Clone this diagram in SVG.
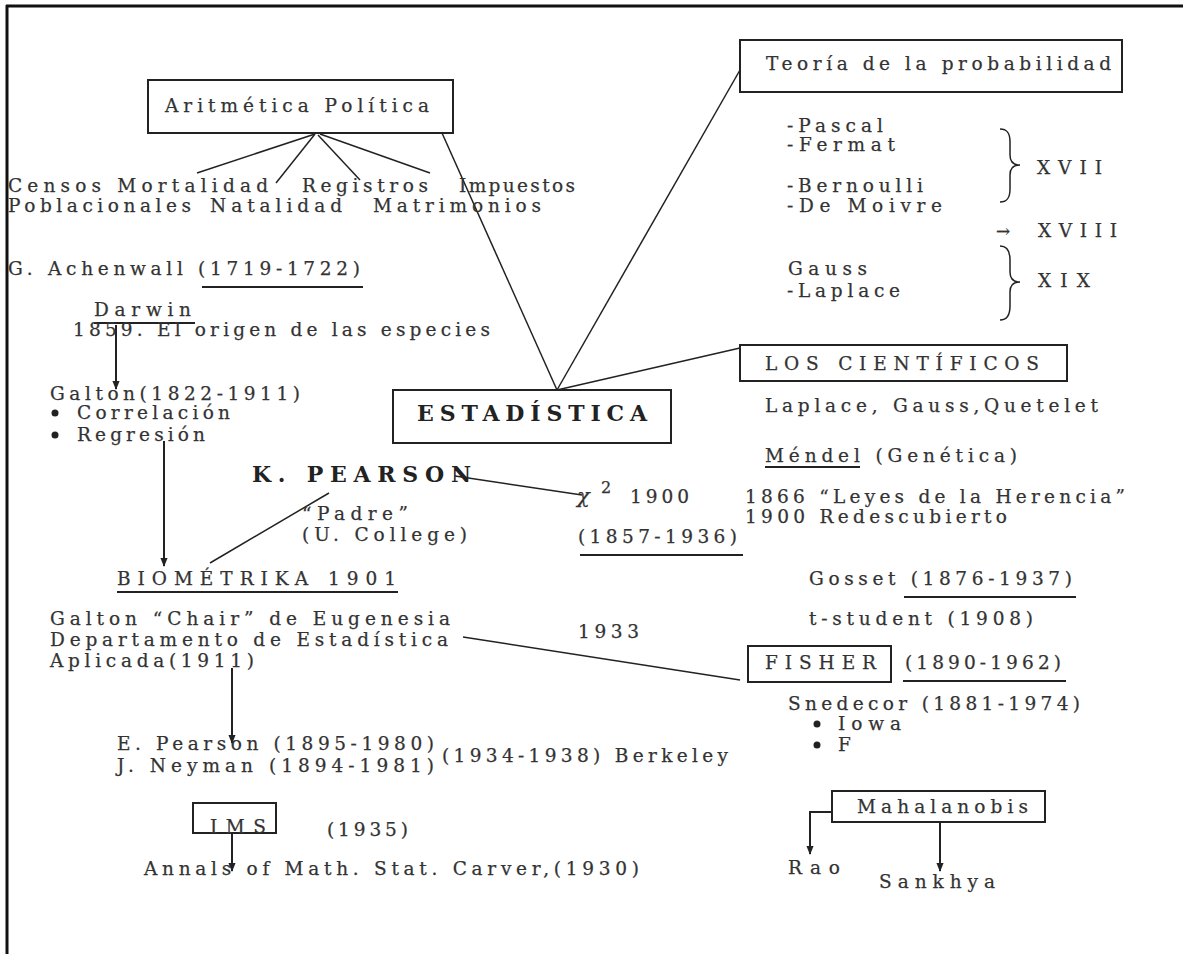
<svg xmlns="http://www.w3.org/2000/svg" width="1183" height="954" viewBox="0 0 1183 954">
<style>
.t{font-family:"DejaVu Serif","Liberation Serif",serif;font-size:18.5px;fill:#333;stroke:#333;stroke-width:0.25}
.b{font-family:"DejaVu Serif","Liberation Serif",serif;font-size:22px;font-weight:bold;fill:#222}
.box{fill:none;stroke:#222;stroke-width:2}
.ln{fill:none;stroke:#222;stroke-width:1.5}
.ul{fill:none;stroke:#222;stroke-width:2}
.ar{fill:none;stroke:#222;stroke-width:2}
</style>
<defs>
<marker id="ah" viewBox="0 0 10 10" refX="9" refY="5" markerWidth="9" markerHeight="11" markerUnits="userSpaceOnUse" orient="auto">
<path d="M0,1 L10,5 L0,9 Z" fill="#222"/>
</marker>
</defs>
<rect width="1183" height="954" fill="#fff"/>
<g id="frame">
<line x1="6" y1="6" x2="1183" y2="6" stroke="#111" stroke-width="3"/>
<line x1="7" y1="5" x2="7" y2="954" stroke="#111" stroke-width="3"/>
</g>

<g id="connectors">
<line class="ln" x1="315" y1="134" x2="197" y2="173"/>
<line class="ln" x1="315" y1="134" x2="276" y2="183"/>
<line class="ln" x1="318" y1="135" x2="360" y2="180"/>
<line class="ln" x1="320" y1="134" x2="430" y2="173"/>
<line class="ln" x1="442" y1="133" x2="557" y2="390"/>
<line class="ln" x1="557" y1="390" x2="740" y2="70"/>
<line class="ln" x1="557" y1="390" x2="740" y2="348"/>
<line class="ln" x1="455" y1="476" x2="582" y2="495"/>
<line class="ln" x1="329" y1="493" x2="210" y2="563"/>
<line class="ln" x1="463" y1="637" x2="740" y2="680"/>
<line class="ar" x1="116" y1="325" x2="116" y2="389" marker-end="url(#ah)"/>
<line class="ar" x1="164" y1="441" x2="164" y2="566" marker-end="url(#ah)"/>
<line class="ar" x1="232" y1="668" x2="232" y2="743" marker-end="url(#ah)"/>
<line class="ar" x1="232" y1="833" x2="232" y2="871" marker-end="url(#ah)"/>
<polyline class="ar" points="832,812 810,812 810,854" marker-end="url(#ah)"/>
<line class="ar" x1="940" y1="822" x2="940" y2="871" marker-end="url(#ah)"/>
</g>

<g id="aritmetica">
<rect class="box" x="148" y="80" width="305" height="53"/>
<text class="t" x="165" y="112" textLength="264" lengthAdjust="spacing">Aritmética Política</text>
</g>
<g id="categorias">
<text class="t" x="8" y="192" textLength="260" lengthAdjust="spacing">Censos Mortalidad</text>
<text class="t" x="302" y="192" textLength="126" lengthAdjust="spacing">Registros</text>
<text class="t" x="459" y="192" textLength="116" lengthAdjust="spacing">Impuestos</text>
<text class="t" x="8" y="212" textLength="183" lengthAdjust="spacing">Poblacionales</text>
<text class="t" x="210" y="212" textLength="132" lengthAdjust="spacing">Natalidad</text>
<text class="t" x="373" y="212" textLength="168" lengthAdjust="spacing">Matrimonios</text>
</g>
<g id="achenwall">
<text class="t" x="8" y="275" textLength="352" lengthAdjust="spacing">G. Achenwall (1719-1722)</text>
<line class="ul" x1="202" y1="287" x2="363" y2="287"/>
</g>
<g id="darwin">
<text class="t" x="94" y="316" textLength="97" lengthAdjust="spacing">Darwin</text>
<line class="ul" x1="94" y1="323" x2="195" y2="323"/>
<text class="t" x="73" y="336" textLength="417" lengthAdjust="spacing">1859. El origen de las especies</text>
</g>
<g id="galton">
<text class="t" x="50" y="400" textLength="250" lengthAdjust="spacing">Galton(1822-1911)</text>
<circle cx="55" cy="413" r="3.5" fill="#222"/>
<text class="t" x="77" y="419" textLength="153" lengthAdjust="spacing">Correlación</text>
<circle cx="55" cy="435" r="3.5" fill="#222"/>
<text class="t" x="77" y="441" textLength="128" lengthAdjust="spacing">Regresión</text>
</g>
<g id="estadistica">
<rect class="box" x="393" y="390" width="278" height="53"/>
<text class="b" x="417" y="421" textLength="230" lengthAdjust="spacing">ESTADÍSTICA</text>
</g>
<g id="teoria">
<rect class="box" x="740" y="40" width="382" height="52"/>
<text class="t" x="766" y="70" textLength="345" lengthAdjust="spacing">Teoría de la probabilidad</text>
</g>
<g id="probabilistas">
<text class="t" x="787" y="132" textLength="96" lengthAdjust="spacing">-Pascal</text>
<text class="t" x="787" y="151" textLength="108" lengthAdjust="spacing">-Fermat</text>
<text class="t" x="787" y="192" textLength="136" lengthAdjust="spacing">-Bernoulli</text>
<text class="t" x="787" y="212" textLength="155" lengthAdjust="spacing">-De Moivre</text>
<path class="ln" d="M1000,129 C1008,129 1010,134 1010,142 L1010,155 C1010,161 1013,165 1020,165 C1013,165 1010,169 1010,175 L1010,189 C1010,197 1008,202 1000,202"/>
<text class="t" x="1037" y="174" textLength="65" lengthAdjust="spacing">XVII</text>
<text class="t" x="996" y="237" style="font-size:17px">→</text>
<text class="t" x="1038" y="237" textLength="79" lengthAdjust="spacing">XVIII</text>
<text class="t" x="788" y="275" textLength="79" lengthAdjust="spacing">Gauss</text>
<text class="t" x="787" y="297" textLength="113" lengthAdjust="spacing">-Laplace</text>
<path class="ln" d="M1000,246 C1008,246 1010,252 1010,260 L1010,272 C1010,278 1013,282 1020,282 C1013,282 1010,286 1010,292 L1010,306 C1010,314 1008,320 1000,320"/>
<text class="t" x="1038" y="287" textLength="52" lengthAdjust="spacing">XIX</text>
</g>
<g id="cientificos">
<rect class="box" x="740" y="345" width="327" height="36"/>
<text class="t" x="765" y="370" textLength="274" lengthAdjust="spacing">LOS CIENTÍFICOS</text>
<text class="t" x="765" y="412" textLength="333" lengthAdjust="spacing">Laplace, Gauss,Quetelet</text>
</g>
<g id="mendel">
<text class="t" x="765" y="462" textLength="252" lengthAdjust="spacing">Méndel (Genética)</text>
<line class="ul" x1="765" y1="467" x2="860" y2="467"/>
<text class="t" x="745" y="503" textLength="380" lengthAdjust="spacing">1866 “Leyes de la Herencia”</text>
<text class="t" x="745" y="523" textLength="262" lengthAdjust="spacing">1900 Redescubierto</text>
</g>
<g id="pearson">
<text class="b" x="252" y="482" textLength="219" lengthAdjust="spacing">K. PEARSON</text>
<text class="t" x="302" y="520" textLength="106" lengthAdjust="spacing">“Padre”</text>
<text class="t" x="302" y="541" textLength="165" lengthAdjust="spacing">(U. College)</text>
<text class="t" x="577" y="503" style="font-style:italic;font-size:21px">χ</text>
<text class="t" x="601" y="493" style="font-size:16px">2</text>
<text class="t" x="630" y="503" textLength="59" lengthAdjust="spacing">1900</text>
<text class="t" x="578" y="543" textLength="159" lengthAdjust="spacing">(1857-1936)</text>
<line class="ul" x1="580" y1="555" x2="743" y2="555"/>
</g>
<g id="biometrika">
<text class="t" x="117" y="585" textLength="279" lengthAdjust="spacing">BIOMÉTRIKA 1901</text>
<line class="ul" x1="117" y1="592" x2="398" y2="592"/>
</g>
<g id="gosset">
<text class="t" x="809" y="585" textLength="263" lengthAdjust="spacing">Gosset (1876-1937)</text>
<line class="ul" x1="904" y1="597" x2="1076" y2="597"/>
<text class="t" x="809" y="625" textLength="224" lengthAdjust="spacing">t-student (1908)</text>
</g>
<g id="departamento">
<text class="t" x="50" y="625" textLength="400" lengthAdjust="spacing">Galton “Chair” de Eugenesia</text>
<text class="t" x="50" y="646" textLength="398" lengthAdjust="spacing">Departamento de Estadística</text>
<text class="t" x="50" y="667" textLength="204" lengthAdjust="spacing">Aplicada(1911)</text>
<text class="t" x="578" y="638" textLength="61" lengthAdjust="spacing">1933</text>
</g>
<g id="fisher">
<rect class="box" x="748" y="646" width="143" height="36"/>
<text class="t" x="765" y="669" textLength="111" lengthAdjust="spacing">FISHER</text>
<text class="t" x="905" y="669" textLength="156" lengthAdjust="spacing">(1890-1962)</text>
<line class="ul" x1="903" y1="681" x2="1066" y2="681"/>
<text class="t" x="788" y="710" textLength="292" lengthAdjust="spacing">Snedecor (1881-1974)</text>
<circle cx="817" cy="724" r="3.5" fill="#222"/>
<text class="t" x="838" y="730" textLength="63" lengthAdjust="spacing">Iowa</text>
<circle cx="817" cy="745" r="3.5" fill="#222"/>
<text class="t" x="838" y="751">F</text>
</g>
<g id="neyman">
<text class="t" x="117" y="750" textLength="317" lengthAdjust="spacing">E. Pearson (1895-1980)</text>
<text class="t" x="117" y="772" textLength="317" lengthAdjust="spacing">J. Neyman (1894-1981)</text>
<text class="t" x="442" y="762" textLength="286" lengthAdjust="spacing">(1934-1938) Berkeley</text>
</g>
<g id="ims">
<rect class="box" x="193" y="803" width="83" height="30"/>
<text class="t" x="210" y="833" textLength="56" lengthAdjust="spacing">IMS</text>
<text class="t" x="327" y="836" textLength="81" lengthAdjust="spacing">(1935)</text>
<text class="t" x="144" y="875" textLength="495" lengthAdjust="spacing">Annals of Math. Stat. Carver,(1930)</text>
</g>
<g id="mahalanobis">
<rect class="box" x="832" y="791" width="213" height="31"/>
<text class="t" x="857" y="813" textLength="171" lengthAdjust="spacing">Mahalanobis</text>
<text class="t" x="788" y="874" textLength="52" lengthAdjust="spacing">Rao</text>
<text class="t" x="879" y="888" textLength="116" lengthAdjust="spacing">Sankhya</text>
</g>
</svg>
